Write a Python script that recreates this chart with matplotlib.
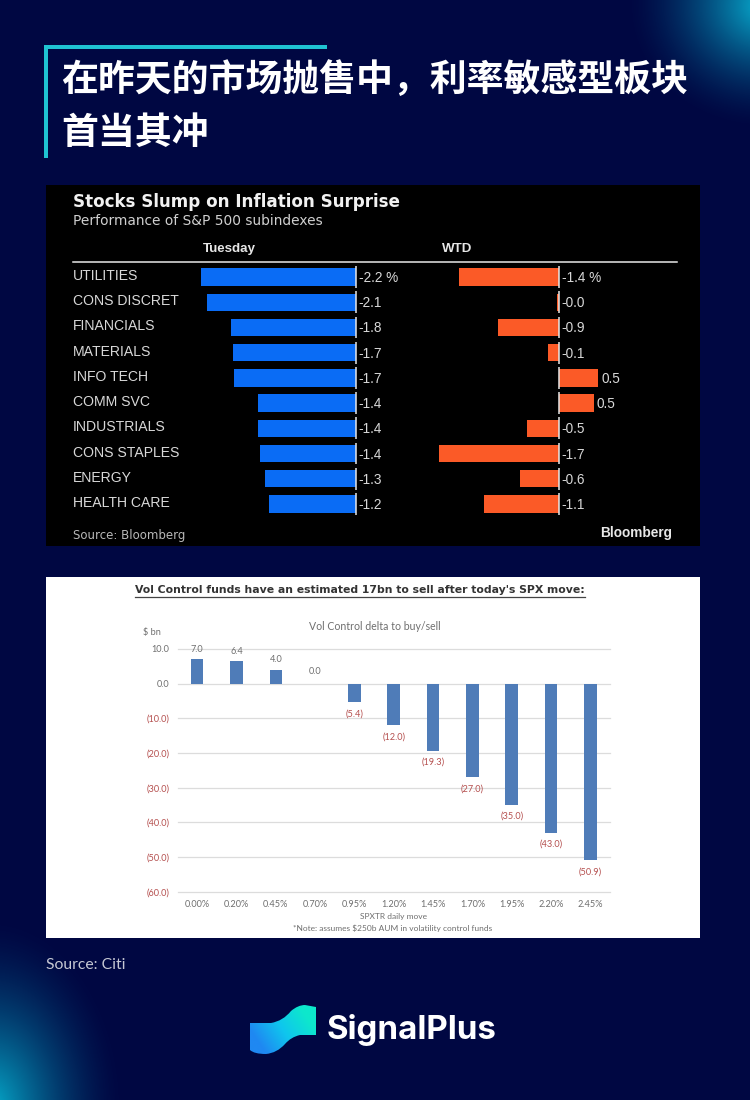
import numpy as np
import matplotlib
matplotlib.use("Agg")
import matplotlib.pyplot as plt
from matplotlib.colors import LinearSegmentedColormap
from matplotlib.patches import PathPatch, Rectangle
from matplotlib.path import Path

W, H = 750, 1100

# Bloomberg panel
sectors = ["UTILITIES", "CONS DISCRET", "FINANCIALS", "MATERIALS", "INFO TECH",
           "COMM SVC", "INDUSTRIALS", "CONS STAPLES", "ENERGY", "HEALTH CARE"]
tuesday = [-2.2, -2.12, -1.78, -1.74, -1.73, -1.39, -1.39, -1.36, -1.29, -1.23]
tuesday_labels = ["-2.2 %", "-2.1", "-1.8", "-1.7", "-1.7", "-1.4", "-1.4", "-1.4", "-1.3", "-1.2"]
wtd = [-1.42, -0.03, -0.86, -0.15, 0.56, 0.49, -0.45, -1.7, -0.56, -1.07]
wtd_labels = ["-1.4 %", "-0.0", "-0.9", "-0.1", "0.5", "0.5", "-0.5", "-1.7", "-0.6", "-1.1"]

# Citi panel
moves = ["0.00%", "0.20%", "0.45%", "0.70%", "0.95%", "1.20%", "1.45%", "1.70%", "1.95%", "2.20%", "2.45%"]
delta = [7.0, 6.4, 4.0, 0.0, -5.4, -12.0, -19.3, -27.0, -35.0, -43.0, -50.9]
delta_ticks = [10, 0, -10, -20, -30, -40, -50, -60]

BG = "#000742"
TEAL = "#1fc3d2"
RED_TXT = "#b5504f"
GREY_TXT = "#6f6f6f"
CJK = ["Noto Sans CJK SC", "DejaVu Sans"]


def px_axes(fig, x0, y0, x1, y1):
    # axes from pixel box, y measured from the top
    ax = fig.add_axes([x0 / W, 1 - y1 / H, (x1 - x0) / W, (y1 - y0) / H])
    ax.patch.set_alpha(0)
    return ax


def glow(ax, cx, cy, rx, ry, color, strength=1.0):
    yy, xx = np.mgrid[0:H, 0:W]
    d = np.sqrt(((xx - cx) / rx) ** 2 + ((yy - cy) / ry) ** 2)
    alpha = np.clip(1 - d, 0, 1) ** 1.6 * strength
    img = np.zeros((H, W, 4))
    img[..., :3] = matplotlib.colors.to_rgb(color)
    img[..., 3] = alpha
    ax.imshow(img, extent=(0, W, H, 0), interpolation="bilinear", zorder=1, aspect="auto")


def draw_bars(ax, values, labels, color):
    rows = np.arange(len(values))
    ax.barh(rows, values, height=0.69, color=color, zorder=2)
    ax.vlines(np.zeros(len(rows)), rows - 0.43, rows + 0.43, color="#e8e8e8", lw=1.1, zorder=3)
    for r, v, lab in zip(rows, values, labels):
        off = v + 0.04 if v > 0 else 0.04
        ax.text(off, r + 0.04, lab, color="#d8d8d8", fontsize=9.8, family="Liberation Sans",
                va="center", ha="left", zorder=4)
    ax.set_ylim(len(values) - 0.5, -0.5)
    ax.axis("off")


fig = plt.figure(figsize=(7.5, 11), dpi=100, facecolor=BG)

bg = fig.add_axes([0, 0, 1, 1])
bg.set_xlim(0, W)
bg.set_ylim(H, 0)
bg.set_facecolor(BG)
glow(bg, 765, 5, 140, 125, "#08b2d4")
glow(bg, -10, 1110, 135, 195, "#06b0d0")
bg.set_xlim(0, W)
bg.set_ylim(H, 0)
bg.axis("off")

# heading
bg.add_patch(Rectangle((44, 45), 283, 4, color=TEAL, zorder=3, lw=0))
bg.add_patch(Rectangle((44, 45), 4, 113, color=TEAL, zorder=3, lw=0))
bg.text(61, 80, "在昨天的市场抛售中，利率敏感型板块", color="white", fontsize=26.6,
        fontweight="bold", family=CJK, va="center", ha="left", zorder=4)
bg.text(61, 133, "首当其冲", color="white", fontsize=26.6,
        fontweight="bold", family=CJK, va="center", ha="left", zorder=4)

# panels
bg.add_patch(Rectangle((46, 185), 654, 361, color="black", zorder=2, lw=0))
bg.add_patch(Rectangle((46, 577), 654, 361, color="white", zorder=2, lw=0))

bg.text(73, 202, "Stocks Slump on Inflation Surprise", color="#f2f2f2", fontsize=12.1,
        fontweight="bold", family="DejaVu Sans", va="center", zorder=4)
bg.text(73, 221, "Performance of S&P 500 subindexes", color="#d0d0d0", fontsize=9.9,
        family="DejaVu Sans", va="center", zorder=4)
bg.text(229.5, 249, "Tuesday", color="#e6e6e6", fontsize=9.6, fontweight="bold",
        family="Liberation Sans", va="center", ha="center", zorder=4)
bg.text(457, 249, "WTD", color="#e6e6e6", fontsize=9.6, fontweight="bold",
        family="Liberation Sans", va="center", ha="center", zorder=4)
bg.plot([73, 677], [262, 262], color="#e8e8e8", lw=1.1, zorder=4)
bg.text(73, 535, "Source: Bloomberg", color="#b8b8b8", fontsize=8.5,
        family="DejaVu Sans", va="center", zorder=4)
bg.text(672, 533, "Bloomberg", color="#e8e8e8", fontsize=9.8, fontweight="bold",
        family="Liberation Sans", va="center", ha="right", zorder=4)

row_step = 25.22
top = 277 - row_step / 2
bottom = top + row_step * 10
for i, name in enumerate(sectors):
    bg.text(73, 276 + i * row_step, name, color="#d8d8d8", fontsize=10.1,
            family="Liberation Sans", va="center", zorder=4)

# 70.5 px per percentage point on both sides
ax_tue = px_axes(fig, 180, top, 440, bottom)
ax_tue.set_xlim((180 - 356) / 70.5, (440 - 356) / 70.5)
draw_bars(ax_tue, tuesday, tuesday_labels, "#0a6cf5")

ax_wtd = px_axes(fig, 430, top, 680, bottom)
ax_wtd.set_xlim((430 - 559) / 70.5, (680 - 559) / 70.5)
draw_bars(ax_wtd, wtd, wtd_labels, "#fb5a27")

# Citi chart
bg.text(360, 590, "Vol Control funds have an estimated 17bn to sell after today's SPX move:",
        color="#333333", fontsize=7.8, fontweight="bold", family="DejaVu Sans",
        va="center", ha="center", zorder=4)
bg.plot([135, 585], [597, 597], color="#444444", lw=0.9, zorder=4)
bg.text(375, 627, "Vol Control delta to buy/sell", color=GREY_TXT, fontsize=7.6,
        family="Lato", va="center", ha="center", zorder=4)
bg.text(152, 632, "$ bn", color=GREY_TXT, fontsize=6.6, family="Lato",
        va="center", ha="center", zorder=4)
bg.text(393, 916, "SPXTR daily move", color=GREY_TXT, fontsize=6, family="Lato",
        va="center", ha="center", zorder=4)
bg.text(393, 928, "*Note: assumes $250b AUM in volatility control funds", color=GREY_TXT,
        fontsize=6, family="Lato", va="center", ha="center", zorder=4)

ax = px_axes(fig, 177.5, 649, 610, 891.7)
pos = np.arange(len(delta))
ax.bar(pos, delta, width=0.32, color="#4f7cb8", zorder=3)
ax.set_xlim(-0.5, len(delta) - 0.5)
ax.set_ylim(-60, 10)
ax.set_yticks(delta_ticks)
ax.set_yticklabels([f"{t:.1f}" if t >= 0 else f"({-t:.1f})" for t in delta_ticks], fontsize=6.6, family="Lato")
for lab, t in zip(ax.get_yticklabels(), delta_ticks):
    lab.set_color(GREY_TXT if t >= 0 else RED_TXT)
ax.set_xticks(pos)
ax.set_xticklabels(moves, fontsize=6.6, family="Lato", color=GREY_TXT)
ax.tick_params(axis="x", length=0, pad=6)
ax.tick_params(axis="y", length=0, pad=6)
ax.grid(axis="y", color="#dcdcdc", lw=0.9, zorder=0)
for gl in ax.get_ygridlines():
    gl.set_clip_on(False)
for s in ax.spines.values():
    s.set_visible(False)
for p, v in zip(pos, delta):
    txt = f"{v:.1f}" if v >= 0 else f"({-v:.1f})"
    ax.annotate(txt, (p, v), xytext=(0, 4 if v > 0 else (5.5 if v == 0 else -5)), textcoords="offset points",
                ha="center", va="bottom" if v >= 0 else "top", fontsize=6.6, family="Lato",
                color=GREY_TXT if v >= 0 else RED_TXT, zorder=4)

bg.text(46, 965, "Source: Citi", color="#c6c8d4", fontsize=11.3, family="Lato",
        va="center", zorder=4)

# logo ribbon
verts = [(250, 1023), (271, 1023), (283, 1021), (291, 1011), (298, 1005), (305, 1005),
         (316, 1007), (316, 1035), (300, 1035), (291, 1037), (285, 1044), (277, 1053),
         (266, 1054), (254, 1054), (250, 1050), (250, 1023)]
codes = [Path.MOVETO, Path.LINETO, Path.CURVE3, Path.CURVE3, Path.CURVE3, Path.CURVE3,
         Path.LINETO, Path.LINETO, Path.LINETO, Path.CURVE3, Path.CURVE3, Path.CURVE3,
         Path.CURVE3, Path.CURVE3, Path.CURVE3, Path.CLOSEPOLY]
logo = PathPatch(Path(verts, codes), facecolor="none", edgecolor="none", zorder=4)
bg.add_patch(logo)
cmap = LinearSegmentedColormap.from_list("logo", ["#1f88f2", "#0fc6ee", "#0de8cc"])
grad = np.linspace(0, 1, 200)[None, :] + np.linspace(0.25, -0.25, 200)[:, None]
im = bg.imshow(grad, extent=(250, 316, 1054, 1005), cmap=cmap, vmin=0, vmax=1, zorder=4, aspect="auto")
im.set_clip_path(logo)
bg.set_xlim(0, W)
bg.set_ylim(H, 0)
bg.text(327, 1030, "SignalPlus", color="white", fontsize=23.8, fontweight="bold",
        family="Inter", va="center", zorder=5)

fig.savefig("out.png", dpi=100, facecolor=BG)
